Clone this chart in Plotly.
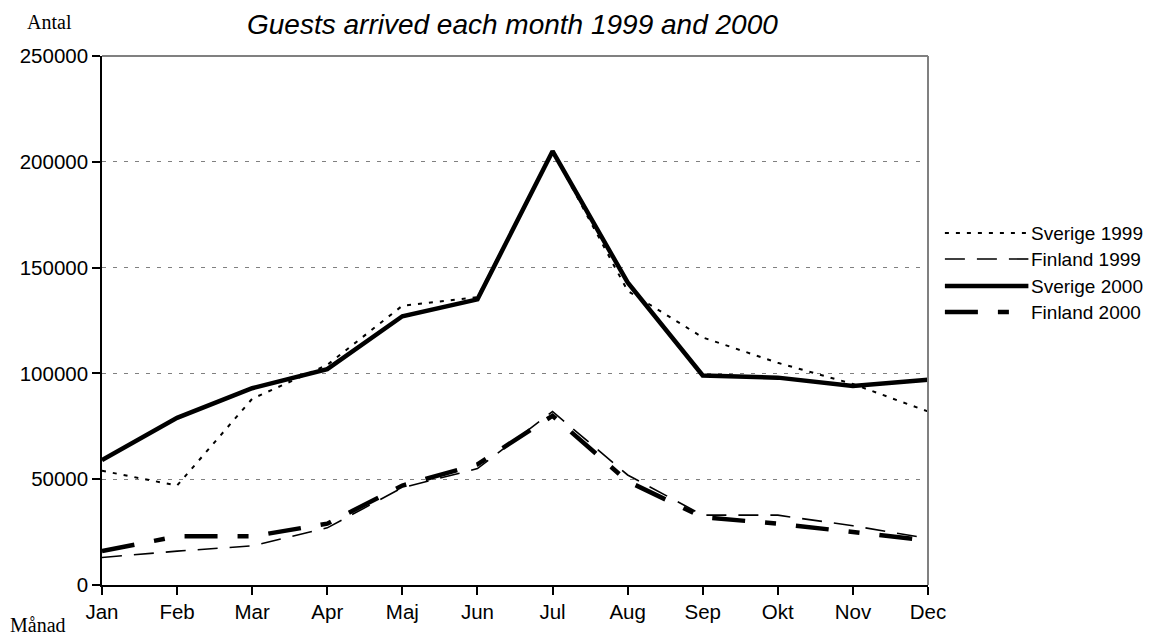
import plotly.graph_objects as go

months = ["Jan", "Feb", "Mar", "Apr", "Maj", "Jun", "Jul", "Aug", "Sep", "Okt", "Nov", "Dec"]
sverige_1999 = [54000, 47000, 88000, 104000, 132000, 136000, 205000, 139000, 117000, 105000, 95000, 82000]
finland_1999 = [13000, 16000, 18500, 27000, 46000, 55000, 82000, 52000, 33000, 33000, 28000, 22000]
sverige_2000 = [59000, 79000, 93000, 102000, 127000, 135000, 205000, 143000, 99000, 98000, 94000, 97000]
finland_2000 = [16000, 23000, 23000, 29000, 47000, 57000, 80000, 49000, 32000, 29000, 25000, 21000]
y_ticks = [0, 50000, 100000, 150000, 200000, 250000]

series = [
    ("Sverige 1999", sverige_1999, dict(color="black", width=2, dash="4px,7px")),
    ("Finland 1999", finland_1999, dict(color="black", width=1.6, dash="20px,12px")),
    ("Sverige 2000", sverige_2000, dict(color="black", width=4.5)),
    ("Finland 2000", finland_2000, dict(color="black", width=4.5, dash="33px,20px,11px,20px")),
]

fig = go.Figure()
for name, vals, line in series:
    fig.add_trace(go.Scatter(x=list(range(len(months))), y=vals, mode="lines", name=name,
                             line=line, showlegend=False, cliponaxis=False))

OFF = 8  # default body margin of the html page
W, H = 1158 - OFF, 639 - OFF
L, T = 97 - OFF, 56 - OFF
pw = 928 - 97
ph = 585 - 56
R = W - L - pw
B = H - T - ph

def px_x(x):
    return (x - OFF - L) / pw

def px_y(y):
    return (T + ph - (y - OFF)) / ph

# manual legend
leg_y = [233, 259, 286, 312]
for (name, vals, line), yy in zip(series, leg_y):
    fig.add_shape(type="line", xref="paper", yref="paper",
                  x0=px_x(945), x1=px_x(1029), y0=px_y(yy), y1=px_y(yy),
                  line=line)
    fig.add_annotation(text=name, xref="paper", yref="paper", x=px_x(1030), y=px_y(yy),
                       xanchor="left", yanchor="middle", showarrow=False,
                       font=dict(family="Liberation Sans, Arial", size=19, color="black"))

# gray top and right frame
fig.add_shape(type="line", xref="paper", yref="paper", x0=0, x1=1, y0=1, y1=1,
              line=dict(color="#808080", width=2))
fig.add_shape(type="line", xref="paper", yref="paper", x0=1, x1=1, y0=0, y1=1,
              line=dict(color="#808080", width=2))

fig.add_annotation(text="<i>Guests arrived each month 1999 and 2000</i>", xref="paper", yref="paper",
                   x=px_x(510), y=px_y(24), xanchor="center", yanchor="middle", showarrow=False,
                   font=dict(family="Liberation Sans, Arial", size=28, color="black"))
fig.add_annotation(text="Antal", xref="paper", yref="paper", x=px_x(20), y=px_y(22),
                   xanchor="left", yanchor="middle", showarrow=False,
                   font=dict(family="Liberation Serif, Times New Roman", size=20, color="black"))
fig.add_annotation(text="Månad", xref="paper", yref="paper", x=px_x(2), y=px_y(625),
                   xanchor="left", yanchor="middle", showarrow=False,
                   font=dict(family="Liberation Serif, Times New Roman", size=20, color="black"))

fig.update_layout(
    width=W, height=H,
    margin=dict(l=L, r=R, t=T, b=B, pad=0),
    paper_bgcolor="white", plot_bgcolor="white",
    font=dict(family="Liberation Sans, Arial", size=20, color="black"),
    xaxis=dict(range=[0, 11], tickvals=list(range(len(months))), ticktext=months,
               showline=True, linecolor="black", linewidth=1.5, ticks="outside",
               ticklen=8, tickwidth=1.5, tickcolor="black", showgrid=False, zeroline=False,
               tickfont=dict(size=20.5)),
    yaxis=dict(range=[0, 250000], tickvals=y_ticks, tickformat="d",
               showline=True, linecolor="black", linewidth=1.5, ticks="outside",
               ticklen=8, tickwidth=1.5, tickcolor="black", showgrid=True,
               gridcolor="#808080", gridwidth=1, griddash="4px,7px", zeroline=False,
               tickfont=dict(size=20.5)),
)

fig.write_html("out.html")
